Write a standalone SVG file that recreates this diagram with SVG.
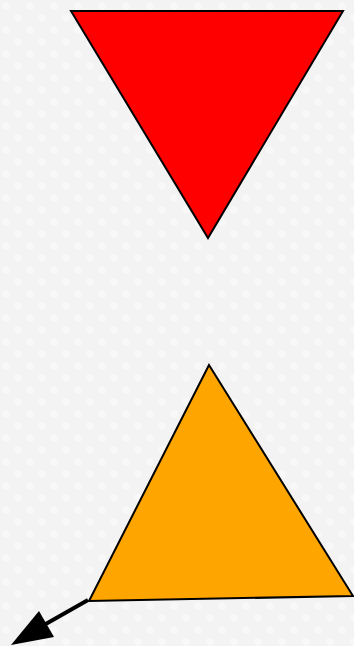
<svg xmlns="http://www.w3.org/2000/svg" width="354" height="646" viewBox="0 0 354 646">
<style>
.tri{stroke:#000;stroke-width:2;stroke-linejoin:miter}
.conn{stroke:#000;stroke-width:4;fill:none}
</style>
<defs>
<pattern id="bg" width="24" height="24" patternUnits="userSpaceOnUse">
<rect width="24" height="24" fill="#f3f3f3"/>
<circle cx="6" cy="6" r="4" fill="#f8f8f8"/>
<circle cx="18" cy="18" r="4" fill="#f8f8f8"/>
</pattern>
</defs>
<rect width="354" height="646" fill="url(#bg)"/>
<g id="red-triangle">
<polygon class="tri" points="71,11 343,11 208,238" fill="#ff0000"/>
</g>
<g id="orange-triangle">
<polygon class="tri" points="209,365 89,601 353,596" fill="#ffa500"/>
</g>
<g id="connectors">
<line class="conn" x1="88" y1="600" x2="44" y2="625"/>
<polygon points="11,645 39,611 54,637" fill="#000"/>
</g>
</svg>
